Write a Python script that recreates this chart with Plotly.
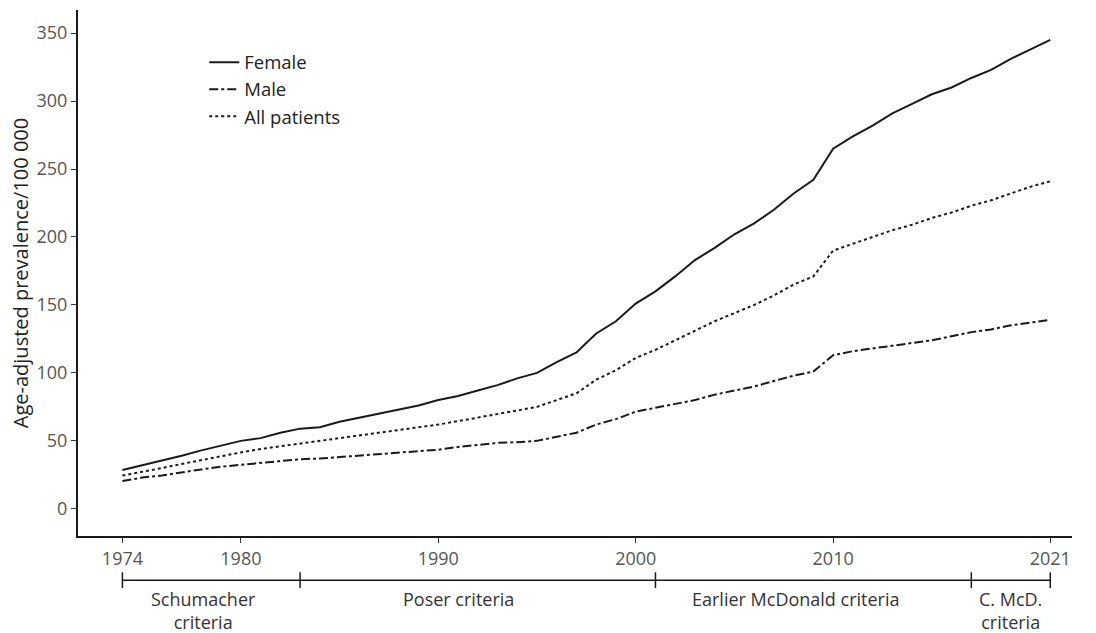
import plotly.graph_objects as go

years = list(range(1974, 2022))
female = [28.5, 32, 35, 39, 43, 46.5, 50, 52, 56, 59, 60, 64, 67, 70, 73, 76,
          80, 83, 87, 91, 96, 100, 108, 115, 129, 138, 151, 160, 171, 183, 192, 202,
          210, 220, 232, 242, 265, 274, 282, 291, 298, 305, 310, 317, 323, 331, 338, 345]
male = [20.5, 23, 24.5, 27, 29, 31, 32.5, 34, 35.5, 36.5, 37, 38, 39, 40, 41, 42.5,
        43.5, 45.5, 47, 48.5, 49, 50, 53, 56, 62, 66, 71.5, 74.5, 77.5, 80, 84, 87,
        90, 94, 98, 101, 113, 116, 118, 120, 122, 124, 127, 130, 132, 135, 137, 139]
all_patients = [24.5, 27, 30, 33, 36, 39, 41.5, 44, 46, 48, 49.5, 51.5, 53.5, 55.5, 57.5, 60,
                62, 64.5, 67, 69.5, 72, 75, 80, 85, 95, 102, 111, 117, 124, 131, 138, 144,
                150, 157, 165, 171, 190, 195, 200, 205, 209, 214, 218, 223, 227, 232, 237, 241]

x_ticks = [1974, 1980, 1990, 2000, 2010, 2021]
y_ticks = [0, 50, 100, 150, 200, 250, 300, 350]

criteria_bounds = [1974, 1983, 2001, 2017, 2021]
criteria_labels = ["Schumacher<br>criteria", "Poser criteria", "Earlier McDonald criteria", "C. McD.<br>criteria"]
criteria_label_x = [1978.1, 1991.0, 2008.1, 2019.0]

FONT = "Open Sans"
INK = "#1a1a1a"

fig = go.Figure()
fig.add_trace(go.Scatter(x=years, y=female, name="Female", mode="lines",
                         line=dict(color=INK, width=2, dash="solid")))
fig.add_trace(go.Scatter(x=years, y=male, name="Male", mode="lines",
                         line=dict(color=INK, width=2, dash="dashdot")))
fig.add_trace(go.Scatter(x=years, y=all_patients, name="All patients", mode="lines",
                         line=dict(color=INK, width=2, dash="dot")))

line_y = -0.084
fig.add_shape(type="line", xref="x", yref="paper", x0=criteria_bounds[0], x1=criteria_bounds[-1],
              y0=line_y, y1=line_y, line=dict(color=INK, width=1.5))
for b in criteria_bounds:
    fig.add_shape(type="line", xref="x", yref="paper", x0=b, x1=b,
                  y0=line_y - 0.015, y1=line_y + 0.015, line=dict(color=INK, width=1.5))
for lx, lab in zip(criteria_label_x, criteria_labels):
    fig.add_annotation(x=lx, y=line_y - 0.009, xref="x", yref="paper", text=lab,
                       showarrow=False, yanchor="top", xanchor="center",
                       font=dict(family=FONT, size=18, color="#333333"))

fig.update_layout(
    width=1096, height=633,
    margin=dict(l=78, r=24, t=10, b=97),
    paper_bgcolor="white", plot_bgcolor="white",
    font=dict(family=FONT, color="#333333"),
    showlegend=True,
    legend=dict(x=0.127, y=0.936, xanchor="left", yanchor="top",
                font=dict(family=FONT, size=18.5, color="#222222"),
                bgcolor="rgba(0,0,0,0)", tracegroupgap=0, itemwidth=30),
    xaxis=dict(range=[1971.75, 2022.1], tickvals=x_ticks, ticktext=[str(v) for v in x_ticks],
               showgrid=False, zeroline=False, showline=True, linecolor=INK, linewidth=2,
               ticks="outside", ticklen=5, tickcolor="#333333", tickwidth=1,
               tickfont=dict(family=FONT, size=18, color="#555555")),
    yaxis=dict(range=[-20, 367], tickvals=y_ticks, showgrid=False, zeroline=False,
               showline=True, linecolor=INK, linewidth=2,
               ticks="outside", ticklen=5, tickcolor="#333333", tickwidth=1,
               tickfont=dict(family=FONT, size=18, color="#555555"),
               title=dict(text="Age-adjusted prevalence/100 000", standoff=3,
                          font=dict(family=FONT, size=20, color="#222222"))),
)

fig.write_html("out.html", config={"displayModeBar": False},
               post_script="document.body.style.margin='0';")
